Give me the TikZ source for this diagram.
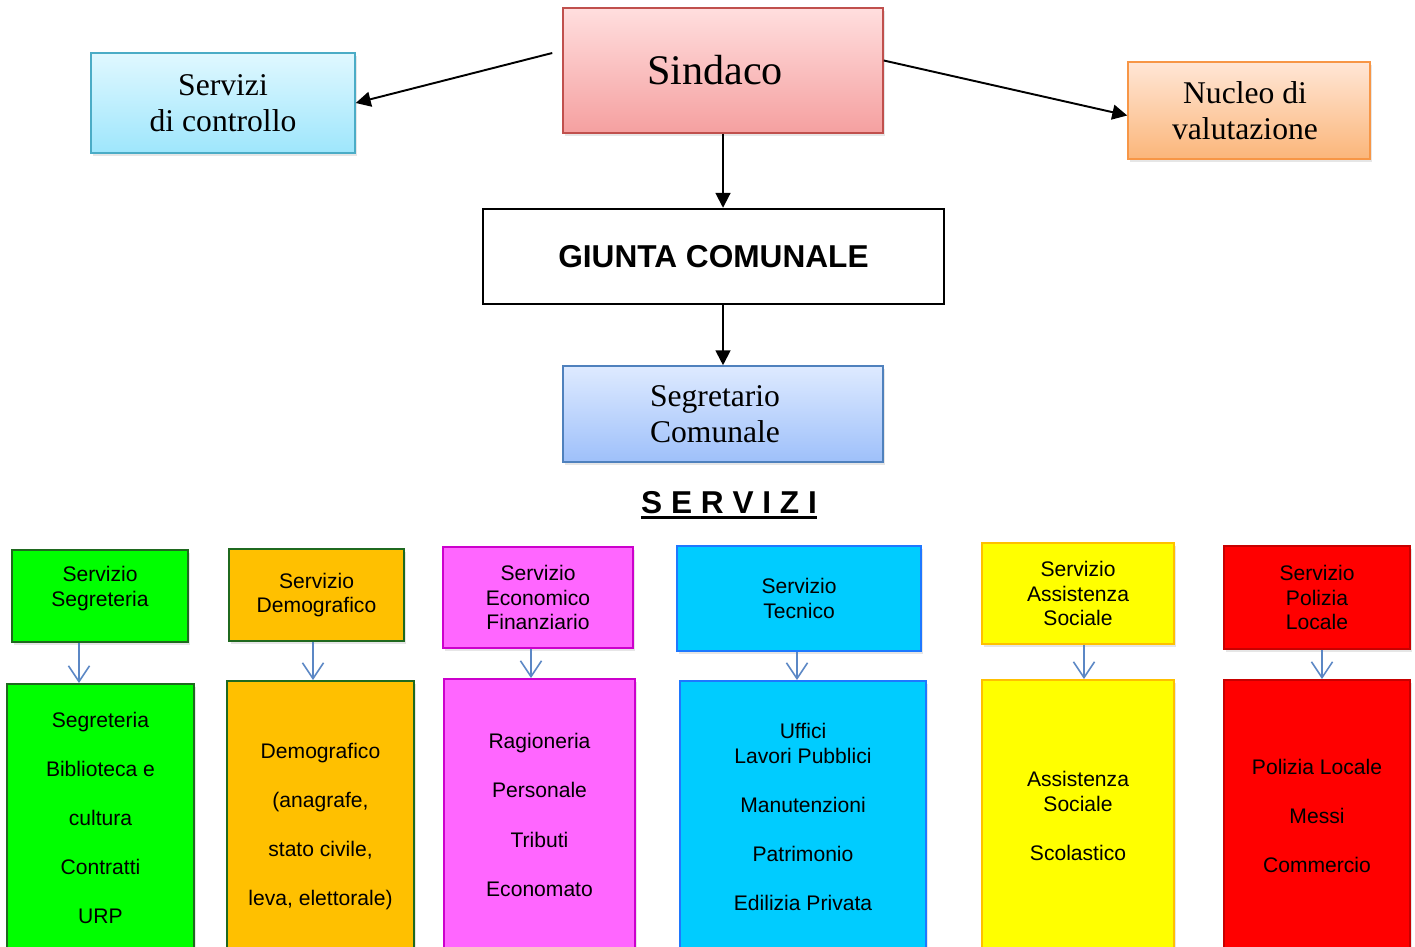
\documentclass[tikz,border=0pt]{standalone}
\usepackage{fontspec}
\setmainfont{Liberation Serif}
\setsansfont{Liberation Sans}
\usetikzlibrary{arrows.meta,shadows}
\usepackage{xcolor}

\definecolor{sindacotop}{RGB}{255,222,222}
\definecolor{sindacobot}{RGB}{245,160,160}
\definecolor{sindacoline}{RGB}{192,80,77}
\definecolor{controllotop}{RGB}{224,248,255}
\definecolor{controllobot}{RGB}{158,230,252}
\definecolor{controlloline}{RGB}{75,172,198}
\definecolor{nucleotop}{RGB}{255,230,214}
\definecolor{nucleobot}{RGB}{251,182,122}
\definecolor{nucleoline}{RGB}{247,150,70}
\definecolor{segrtop}{RGB}{222,234,255}
\definecolor{segrbot}{RGB}{158,192,250}
\definecolor{segrline}{RGB}{79,129,189}
\definecolor{arrowblue}{RGB}{91,135,197}
\definecolor{verde}{RGB}{0,255,0}
\definecolor{verdeline}{RGB}{31,105,31}
\definecolor{arancio}{RGB}{255,192,0}
\definecolor{magenta}{RGB}{255,102,255}
\definecolor{magentaline}{RGB}{204,0,204}
\definecolor{ciano}{RGB}{0,204,255}
\definecolor{cianoline}{RGB}{30,120,255}
\definecolor{giallo}{RGB}{255,255,0}
\definecolor{gialloline}{RGB}{255,192,0}
\definecolor{rosso}{RGB}{255,0,0}
\definecolor{rossoline}{RGB}{200,0,0}

\begin{document}
\begin{tikzpicture}[x=0.02cm,y=-0.02cm,
	topbox/.style={draw,line width=0.9pt,inner sep=0pt,align=center,font=\fontsize{18}{20.5}\selectfont,drop shadow={shadow xshift=1.2pt,shadow yshift=-1.8pt,opacity=0.2}},
	servbox/.style={draw,line width=1.1pt,inner sep=0pt,align=center,font=\sffamily\fontsize{12}{14}\selectfont,drop shadow={shadow xshift=1.2pt,shadow yshift=-1.8pt,opacity=0.2}},
	mainarrow/.style={line width=1.1pt,-{Triangle[length=8.5pt,width=8.5pt]}},
	subarrow/.style={draw=arrowblue,line width=0.9pt,-{Straight Barb[length=9pt,width=12pt]}}]
	\useasboundingbox (0,0) rectangle (1415,946);
	% vertice
	\node[topbox,draw=sindacoline,top color=sindacotop,bottom color=sindacobot,minimum width=6.4cm,minimum height=2.5cm,font=\fontsize{24}{28}\selectfont] (sindaco) at (723,70.5) {\hspace*{-0.32cm}Sindaco};
	\node[topbox,draw=controlloline,top color=controllotop,bottom color=controllobot,minimum width=5.28cm,minimum height=2cm] (controllo) at (223,103) {Servizi\\di controllo};
	\node[topbox,draw=nucleoline,top color=nucleotop,bottom color=nucleobot,minimum width=4.84cm,minimum height=1.94cm] (nucleo) at (1249,110.5) {\hspace*{-0.16cm}Nucleo di\\\hspace*{-0.16cm}valutazione};
	\node[draw,line width=1.4pt,inner sep=0pt,minimum width=9.22cm,minimum height=1.9cm,font=\sffamily\bfseries\fontsize{18}{20}\selectfont] (giunta) at (713.5,256.5) {GIUNTA COMUNALE};
	\node[topbox,draw=segrline,top color=segrtop,bottom color=segrbot,minimum width=6.4cm,minimum height=1.92cm] (segretario) at (723,414) {\hspace*{-0.32cm}Segretario\\\hspace*{-0.32cm}Comunale};
	\draw[mainarrow] ([xshift=-0.2cm,yshift=0.35cm]sindaco.west) -- (controllo.east);
	\draw[mainarrow] ([yshift=0.2cm]sindaco.east) -- ([yshift=-0.1cm]nucleo.west);
	\draw[mainarrow] (sindaco.south) -- (giunta.north -| sindaco.south);
	\draw[mainarrow] (giunta.south -| segretario.north) -- (segretario.north);
	% titolo
	\node[inner sep=0pt,font=\sffamily\bfseries\fontsize{18}{20}\selectfont] (servizi) at (729,503) {S E R V I Z I};
	\draw[line width=1.7pt] ([yshift=-2.2pt]servizi.base west) -- ([yshift=-2.2pt]servizi.base east);
	% servizi
	\node[servbox,draw=verdeline,fill=verde,minimum width=3.52cm,minimum height=1.84cm,text depth=11pt] (segr) at (100,596) {Servizio\\Segreteria};
	\node[servbox,draw=verdeline,fill=arancio,minimum width=3.5cm,minimum height=1.84cm] (demo) at (316.5,595) {Servizio\\Demografico};
	\node[servbox,draw=magentaline,fill=magenta,minimum width=3.8cm,minimum height=2.02cm] (econ) at (538,597.5) {Servizio\\Economico\\Finanziario};
	\node[servbox,draw=cianoline,fill=ciano,minimum width=4.88cm,minimum height=2.1cm] (tecn) at (799,598.5) {Servizio\\Tecnico};
	\node[servbox,draw=gialloline,fill=giallo,minimum width=3.84cm,minimum height=2.02cm] (assi) at (1078,593.5) {Servizio\\Assistenza\\Sociale};
	\node[servbox,draw=rossoline,fill=rosso,minimum width=3.72cm,minimum height=2.06cm] (poli) at (1317,597.5) {Servizio\\Polizia\\Locale};
	% uffici
	\node[servbox,draw=verdeline,fill=verde,minimum width=3.74cm,minimum height=5.36cm] (segrlist) at (100.5,818) {Segreteria\\[14pt]Biblioteca e\\[14pt]cultura\\[14pt]Contratti\\[14pt]URP};
	\node[servbox,draw=verdeline,fill=arancio,minimum width=3.74cm,minimum height=5.82cm] (demolist) at (320.5,826.5) {Demografico\\[14pt](anagrafe,\\[14pt]stato civile,\\[14pt]leva, elettorale)};
	\node[servbox,draw=magentaline,fill=magenta,minimum width=3.82cm,minimum height=5.44cm] (econlist) at (539.5,815) {Ragioneria\\[14pt]Personale\\[14pt]Tributi\\[14pt]Economato};
	\node[servbox,draw=cianoline,fill=ciano,minimum width=4.92cm,minimum height=5.44cm] (tecnlist) at (803,817) {Uffici\\Lavori Pubblici\\[14pt]Manutenzioni\\[14pt]Patrimonio\\[14pt]Edilizia Privata};
	\node[servbox,draw=gialloline,fill=giallo,minimum width=3.84cm,minimum height=5.44cm] (assilist) at (1078,816) {Assistenza\\Sociale\\[14pt]Scolastico};
	\node[servbox,draw=rossoline,fill=rosso,minimum width=3.72cm,minimum height=5.44cm] (polilist) at (1317,816) {Polizia Locale\\[14pt]Messi\\[14pt]Commercio};
	\draw[subarrow] ([xshift=-0.42cm]segr.south) -- ([xshift=-0.42cm]segr.south |- segrlist.north);
	\draw[subarrow] ([xshift=-0.07cm]demo.south) -- ([xshift=-0.07cm]demo.south |- demolist.north);
	\draw[subarrow] ([xshift=-0.14cm]econ.south) -- ([xshift=-0.14cm]econ.south |- econlist.north);
	\draw[subarrow] ([xshift=-0.04cm]tecn.south) -- ([xshift=-0.04cm]tecn.south |- tecnlist.north);
	\draw[subarrow] ([xshift=0.12cm]assi.south) -- ([xshift=0.12cm]assi.south |- assilist.north);
	\draw[subarrow] ([xshift=0.1cm]poli.south) -- ([xshift=0.1cm]poli.south |- polilist.north);
\end{tikzpicture}
\end{document}
